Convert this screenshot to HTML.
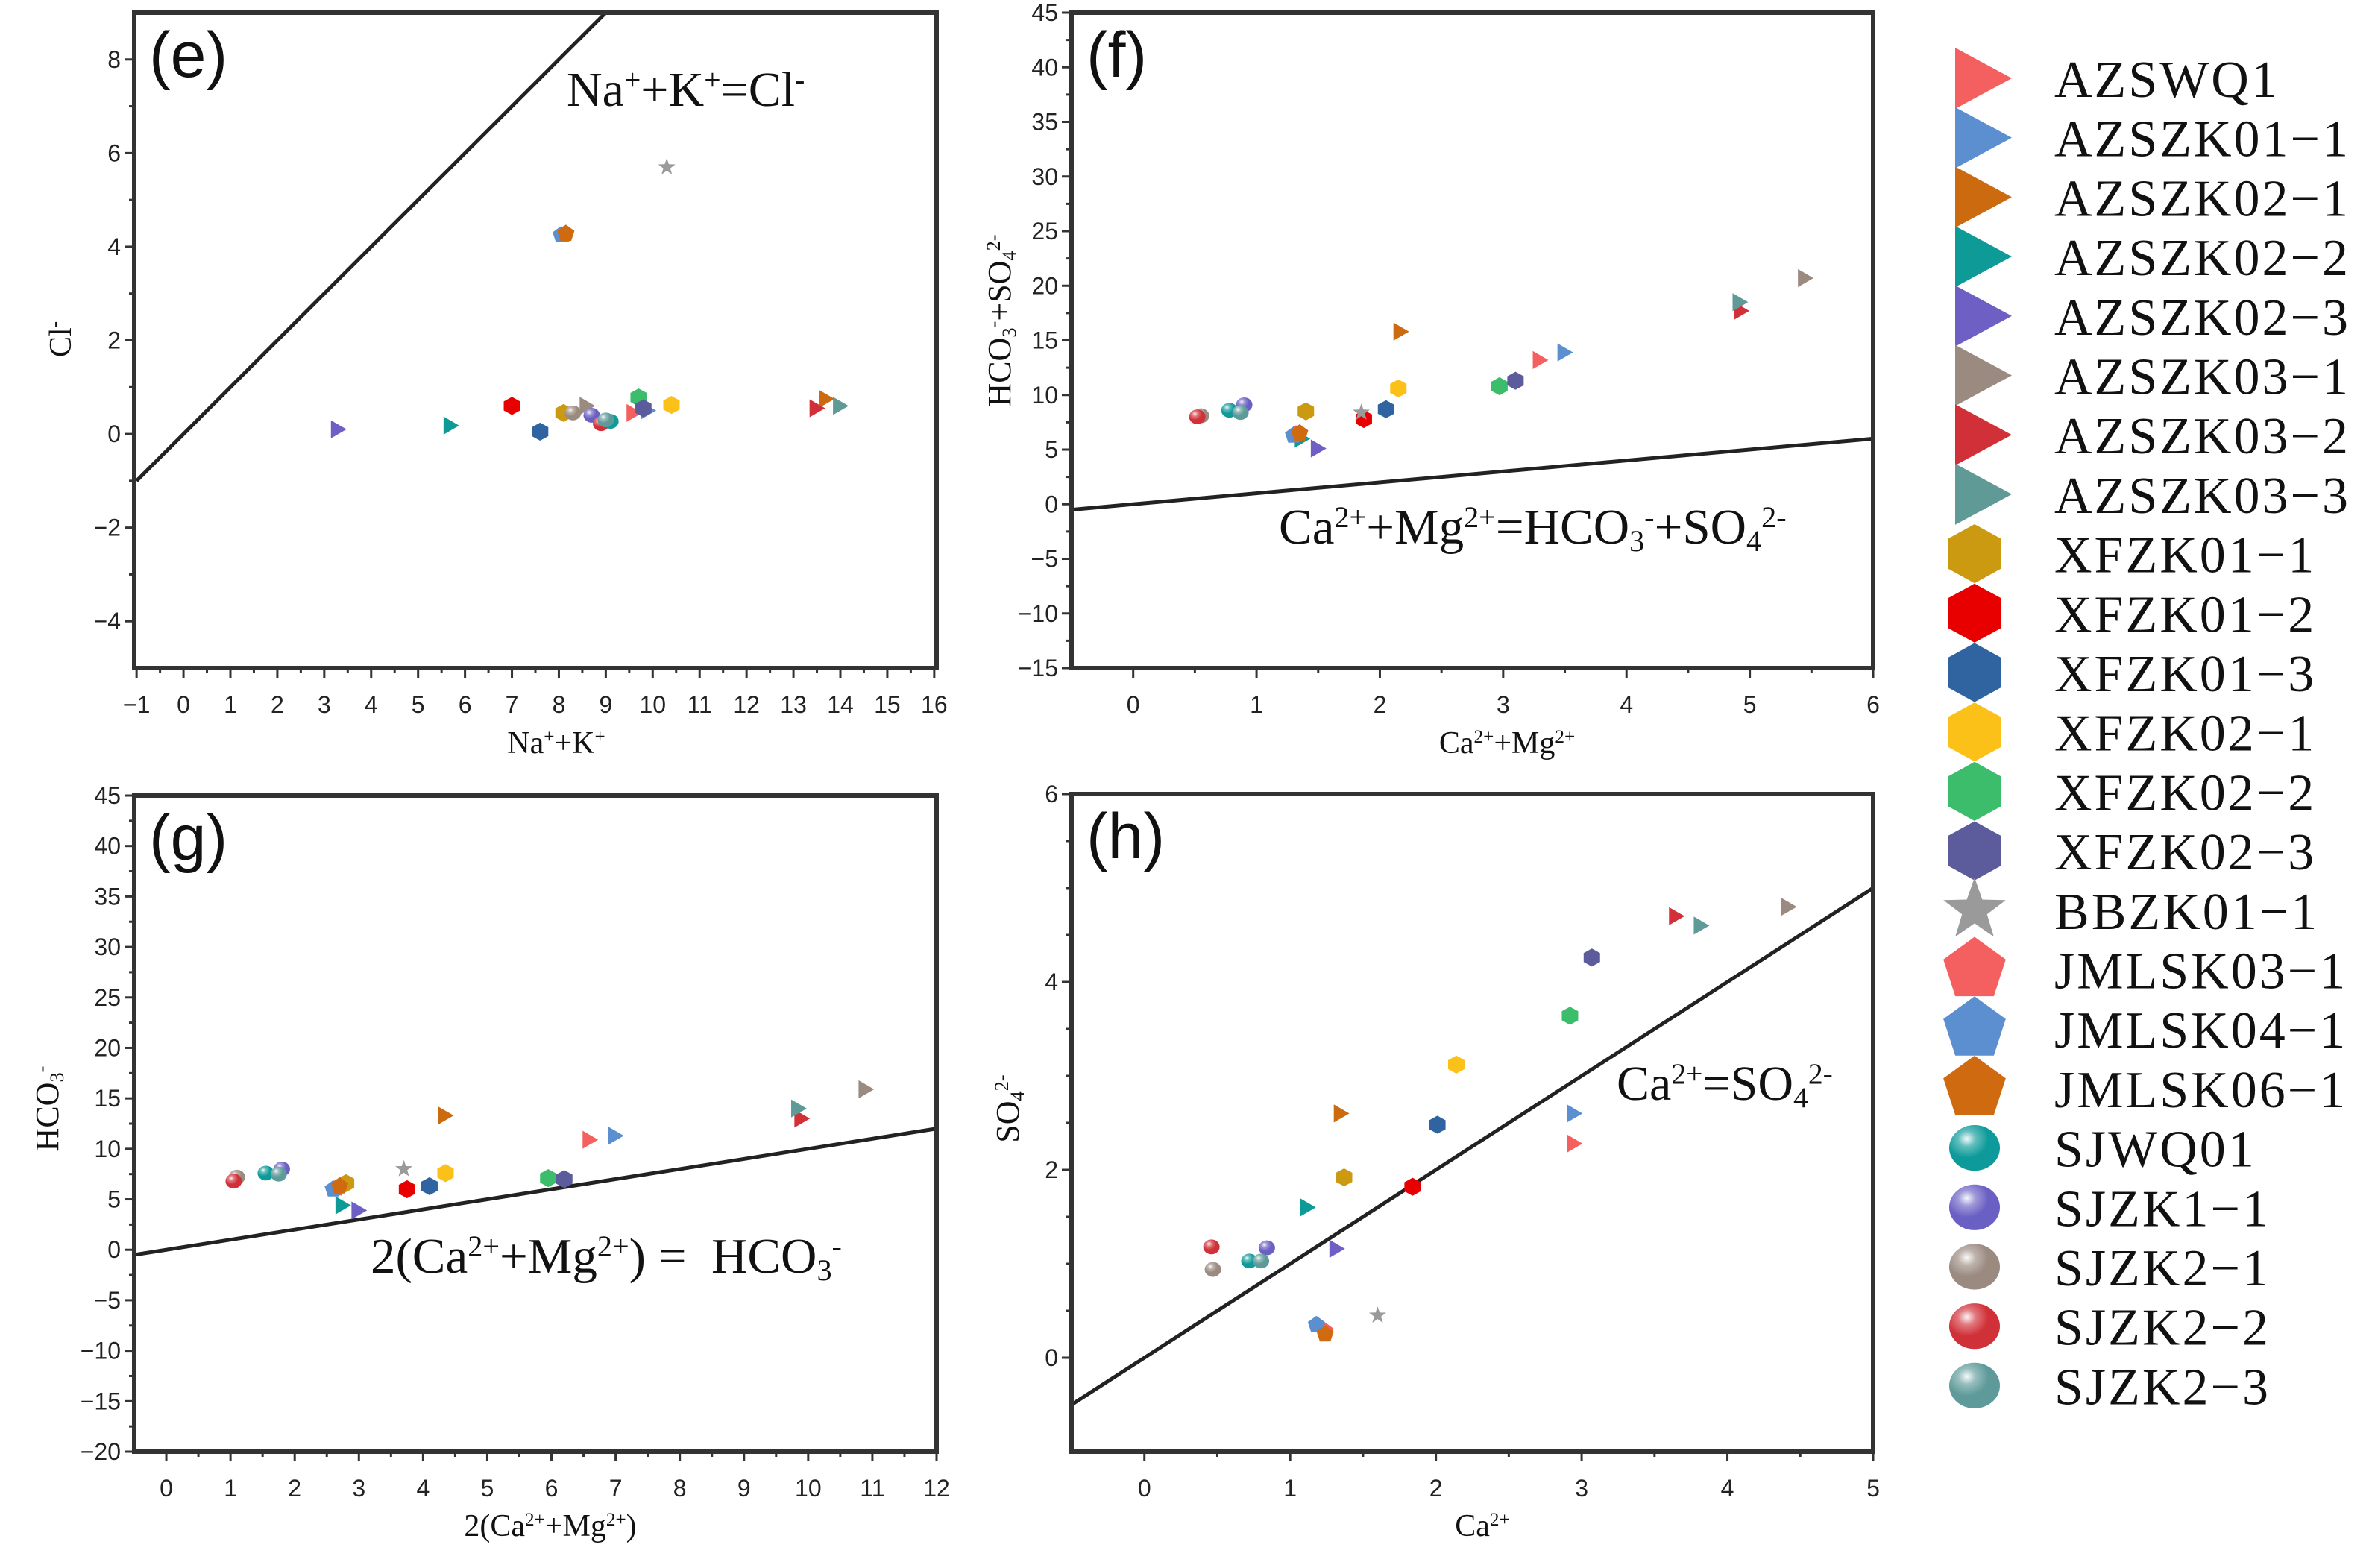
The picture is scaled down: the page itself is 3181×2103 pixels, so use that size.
<!DOCTYPE html>
<html><head><meta charset="utf-8"><style>
html,body{margin:0;padding:0;background:#fff}
svg{display:block}
.tk{font-family:"Liberation Sans",Arial,sans-serif;font-size:32px;fill:#222}
.ser{font-family:"Liberation Serif","Times New Roman",serif;fill:#111}
.pl{font-family:"Liberation Sans",Arial,sans-serif;font-size:86px;fill:#111}
</style></head><body>
<svg id="chart" xmlns="http://www.w3.org/2000/svg" width="3181" height="2103" viewBox="0 0 3181 2103">
<defs>
<radialGradient id="shine" cx="0.35" cy="0.3" r="0.7"><stop offset="0" stop-color="#fff" stop-opacity="0.95"/><stop offset="0.25" stop-color="#fff" stop-opacity="0.35"/><stop offset="0.6" stop-color="#fff" stop-opacity="0"/></radialGradient>
</defs>
<g id="panels"></g>
<g id="legend"></g>
</svg>
<script>
const NS="http://www.w3.org/2000/svg";
const seriesNames=["AZSWQ1","AZSZK01−1","AZSZK02−1","AZSZK02−2","AZSZK02−3","AZSZK03−1","AZSZK03−2","AZSZK03−3","XFZK01−1","XFZK01−2","XFZK01−3","XFZK02−1","XFZK02−2","XFZK02−3","BBZK01−1","JMLSK03−1","JMLSK04−1","JMLSK06−1","SJWQ01","SJZK1−1","SJZK2−1","SJZK2−2","SJZK2−3"];
const seriesColors=["#f4605f","#5b8fd0","#cc6a10","#0e9a96","#6e5fc4","#9a8a80","#d23038","#5f9a96","#cc9a10","#e80000","#2f64a0","#fcc118","#3cbd6c","#5c5c9c","#9a9a9a","#f46060","#5b8fd0","#d06a10","#0e9a9a","#6a60c4","#9a8a80","#d03038","#5f9a9a"];
const seriesShapes=["tri","tri","tri","tri","tri","tri","tri","tri","hex","hex","hex","hex","hex","hex","star","pent","pent","pent","ball","ball","ball","ball","ball"];
// panel e: Na+K vs Cl
const eX=[9.6,9.9,13.7,5.7,3.3,8.6,13.5,14.0,8.1,7.0,7.6,10.4,9.7,9.8,10.3,8.1,8.05,8.15,9.1,8.7,8.3,8.9,9.0];
const eY=[0.45,0.5,0.75,0.18,0.1,0.6,0.55,0.6,0.45,0.6,0.05,0.62,0.78,0.55,5.7,4.25,4.25,4.28,0.27,0.4,0.45,0.22,0.3];
// panel f: Ca+Mg vs HCO3+SO4
const fX=[3.3,3.5,2.17,1.37,1.5,5.45,4.93,4.92,1.4,1.87,2.05,2.15,2.97,3.1,1.85,1.32,1.3,1.35,0.78,0.9,0.55,0.52,0.87];
const fY=[13.2,13.9,15.8,6.0,5.1,20.7,17.7,18.5,8.5,7.8,8.7,10.6,10.8,11.3,8.4,6.4,6.3,6.5,8.6,9.1,8.1,8.0,8.4];
// panel g: 2(Ca+Mg) vs HCO3
const gX=[6.6,7.0,4.35,2.75,3.0,10.9,9.9,9.85,2.8,3.75,4.1,4.35,5.95,6.2,3.7,2.65,2.6,2.7,1.55,1.8,1.1,1.05,1.75];
const gY=[10.9,11.3,13.3,4.4,3.9,15.9,13.0,14.0,6.6,6.0,6.3,7.6,7.1,7.0,8.0,6.1,6.0,6.3,7.6,8.0,7.2,6.8,7.5];
// panel h: Ca vs SO4
const hX=[2.95,2.95,1.35,1.12,1.32,4.42,3.65,3.82,1.37,1.84,2.01,2.14,2.92,3.07,1.6,1.24,1.18,1.24,0.72,0.84,0.47,0.46,0.8];
const hY=[2.28,2.6,2.6,1.6,1.16,4.8,4.7,4.6,1.92,1.82,2.48,3.12,3.64,4.26,0.45,0.28,0.35,0.25,1.03,1.17,0.94,1.18,1.03];
const eTicksX=[-1,0,1,2,3,4,5,6,7,8,9,10,11,12,13,14,15,16];
const eTicksY=[-4,-2,0,2,4,6,8];
const fTicksX=[0,1,2,3,4,5,6];
const fTicksY=[-15,-10,-5,0,5,10,15,20,25,30,35,40,45];
const gTicksX=[0,1,2,3,4,5,6,7,8,9,10,11,12];
const gTicksY=[-20,-15,-10,-5,0,5,10,15,20,25,30,35,40,45];
const hTicksX=[0,1,2,3,4,5];
const hTicksY=[0,2,4,6];

function el(tag,attrs,parent){const e=document.createElementNS(NS,tag);for(const k in attrs)e.setAttribute(k,attrs[k]);if(parent)parent.appendChild(e);return e;}

function marker(g,shape,color,cx,cy,s){
  let m;
  if(shape==="tri"){m=el("polygon",{points:`${cx-s*0.45},${cy-s*0.55} ${cx+s*0.5},${cy} ${cx-s*0.45},${cy+s*0.55}`,fill:color},g);}
  else if(shape==="hex"){const w=s*0.5,h=s*0.55;m=el("polygon",{points:`${cx},${cy-h} ${cx+w},${cy-h/2} ${cx+w},${cy+h/2} ${cx},${cy+h} ${cx-w},${cy+h/2} ${cx-w},${cy-h/2}`,fill:color},g);}
  else if(shape==="pent"){let p=[];for(let i=0;i<5;i++){const a=-Math.PI/2+i*2*Math.PI/5;p.push((cx+s*0.55*Math.cos(a))+","+(cy+s*0.55*Math.sin(a)));}m=el("polygon",{points:p.join(" "),fill:color},g);}
  else if(shape==="star"){let p=[];for(let i=0;i<10;i++){const r=i%2?s*0.22:s*0.55;const a=-Math.PI/2+i*Math.PI/5;p.push((cx+r*Math.cos(a))+","+(cy+r*Math.sin(a)));}m=el("polygon",{points:p.join(" "),fill:color},g);}
  else {m=el("ellipse",{cx:cx,cy:cy,rx:s*0.5,ry:s*0.45,fill:color},g);el("ellipse",{cx:cx,cy:cy,rx:s*0.5,ry:s*0.45,fill:"url(#shine)"},g);}
  return m;
}

function panel(cfg){
  const root=document.getElementById("panels");
  const g=el("g",{},root);
  
  
  const sx=v=>cfg.L+(v-cfg.x0)/(cfg.x1-cfg.x0)*(cfg.R-cfg.L);
  const sy=v=>cfg.B-(v-cfg.y0)/(cfg.y1-cfg.y0)*(cfg.B-cfg.T);
  const tg=el("g",{stroke:"#333","stroke-width":3},g);
  cfg.tx.forEach((v,i)=>{
    el("line",{x1:sx(v),y1:cfg.B,x2:sx(v),y2:cfg.B+13},tg);
    if(i<cfg.tx.length-1){const m=(v+cfg.tx[i+1])/2;el("line",{x1:sx(m),y1:cfg.B,x2:sx(m),y2:cfg.B+7},tg);}
    const t=el("text",{x:sx(v),y:cfg.B+60,"text-anchor":"middle",class:"tk"},g);t.textContent=v<0?"−"+(-v):String(v);
    
    
  });
  cfg.ty.forEach((v,i)=>{
    el("line",{x1:cfg.L,y1:sy(v),x2:cfg.L-13,y2:sy(v)},tg);
    if(i<cfg.ty.length-1){const st=(cfg.ty[i+1]-v)/cfg.minor;for(let k=1;k<cfg.minor;k++){el("line",{x1:cfg.L,y1:sy(v+st*k),x2:cfg.L-7,y2:sy(v+st*k)},tg);}}
    const t=el("text",{x:cfg.L-18,y:sy(v)+11,"text-anchor":"end",class:"tk"},g);t.textContent=v<0?"−"+(-v):String(v);
    
    
  });
  const ln=el("line",{x1:sx(cfg.line[0]),y1:sy(cfg.line[1]),x2:sx(cfg.line[2]),y2:sy(cfg.line[3]),stroke:"#222","stroke-width":5},g);
  
  
  const pg=el("g",{},g);
  cfg.xs.forEach((x,i)=>{
    const m=marker(pg,seriesShapes[i],seriesColors[i],sx(x),sy(cfg.ys[i]),22);
    
    
  });
  const fr=el("rect",{x:cfg.L,y:cfg.T,width:cfg.R-cfg.L,height:cfg.B-cfg.T,fill:"none",stroke:"#333","stroke-width":6},g);
  
  
  const lab=el("text",{x:cfg.L+20,y:cfg.T+86,class:"pl"},g);lab.textContent=cfg.label;
  
  
  return g;
}
function html(g,x,y,size,content,anchor,rot,name){
  const t=el("text",{x:x,y:y,class:"ser","font-size":size,"text-anchor":anchor||"start"},g);
  if(rot)t.setAttribute("transform",`rotate(-90 ${x} ${y})`);
  t.innerHTML=content;
  
  
}
const sup=(s)=>`<tspan baseline-shift="55%" font-size="0.6em">${s}</tspan>`;
const subsup=(a,b)=>`<tspan baseline-shift="-25%" font-size="0.6em">${a}</tspan><tspan baseline-shift="55%" font-size="0.6em">${b}</tspan>`;

const pe=panel({name:"panel-e",label:"(e)",L:180,R:1256,T:17,B:896,x0:-1.05,x1:16.05,y0:-5,y1:9,tx:eTicksX,ty:eTicksY,minor:2,xs:eX,ys:eY,line:[-1,-1,9,9]});
const pf=panel({name:"panel-f",label:"(f)",L:1437,R:2512,T:17,B:896,x0:-0.5,x1:6,y0:-15,y1:45,tx:fTicksX,ty:fTicksY,minor:2,xs:fX,ys:fY,line:[-0.5,-0.5,6,6]});
const pg=panel({name:"panel-g",label:"(g)",L:180,R:1256,T:1067,B:1947,x0:-0.5,x1:12,y0:-20,y1:45,tx:gTicksX,ty:gTicksY,minor:2,xs:gX,ys:gY,line:[-0.5,-0.5,12,12]});
const ph=panel({name:"panel-h",label:"(h)",L:1437,R:2512,T:1065,B:1947,x0:-0.5,x1:5,y0:-1,y1:6,tx:hTicksX,ty:hTicksY,minor:4,xs:hX,ys:hY,line:[-0.5,-0.5,5,5]});

html(pe,760,142,66,"Na"+sup("+")+"+K"+sup("+")+"=Cl"+sup("-"),"start",false,"equation-label");
html(pe,746,1010,42,"Na"+sup("+")+"+K"+sup("+"),"middle",false,"x-axis-title");
html(pe,95,455,42,"Cl"+sup("-"),"middle",true,"y-axis-title");
html(pf,1715,729,67,"Ca"+sup("2+")+"+Mg"+sup("2+")+"=HCO"+subsup("3","-")+"+SO"+subsup("4","2-"),"start",false,"equation-label");
html(pf,2021,1010,42,"Ca"+sup("2+")+"+Mg"+sup("2+"),"middle",false,"x-axis-title");
html(pf,1355,430,44,"HCO"+subsup("3","-")+"+SO"+subsup("4","2-"),"middle",true,"y-axis-title");
html(pg,497,1707,67,"2(Ca"+sup("2+")+"+Mg"+sup("2+")+") = &#160;HCO"+subsup("3","-"),"start",false,"equation-label");
html(pg,738,2060,42,"2(Ca"+sup("2+")+"+Mg"+sup("2+")+")","middle",false,"x-axis-title");
html(pg,78,1487,44,"HCO"+subsup("3","-"),"middle",true,"y-axis-title");
html(ph,2168,1475,66,"Ca"+sup("2+")+"=SO"+subsup("4","2-"),"start",false,"equation-label");
html(ph,1988,2060,42,"Ca"+sup("2+"),"middle",false,"x-axis-title");
html(ph,1366,1487,44,"SO"+subsup("4","2-"),"middle",true,"y-axis-title");

const lg=document.getElementById("legend");
seriesNames.forEach((n,i)=>{
  const cy=105+i*79.7;
  const e=el("g",{},lg);
  
  
  const sh=seriesShapes[i];
  if(sh==="tri"){el("polygon",{points:`2622,${cy-41} 2698,${cy} 2622,${cy+41}`,fill:seriesColors[i]},e);}
  else marker(e,sh,seriesColors[i],2648,cy,sh==="hex"?72:sh==="ball"?68:80);
  const t=el("text",{x:2755,y:cy+25,class:"ser","font-size":70,"letter-spacing":"3"},e);
  t.textContent=n;
});
</script>
</body></html>
